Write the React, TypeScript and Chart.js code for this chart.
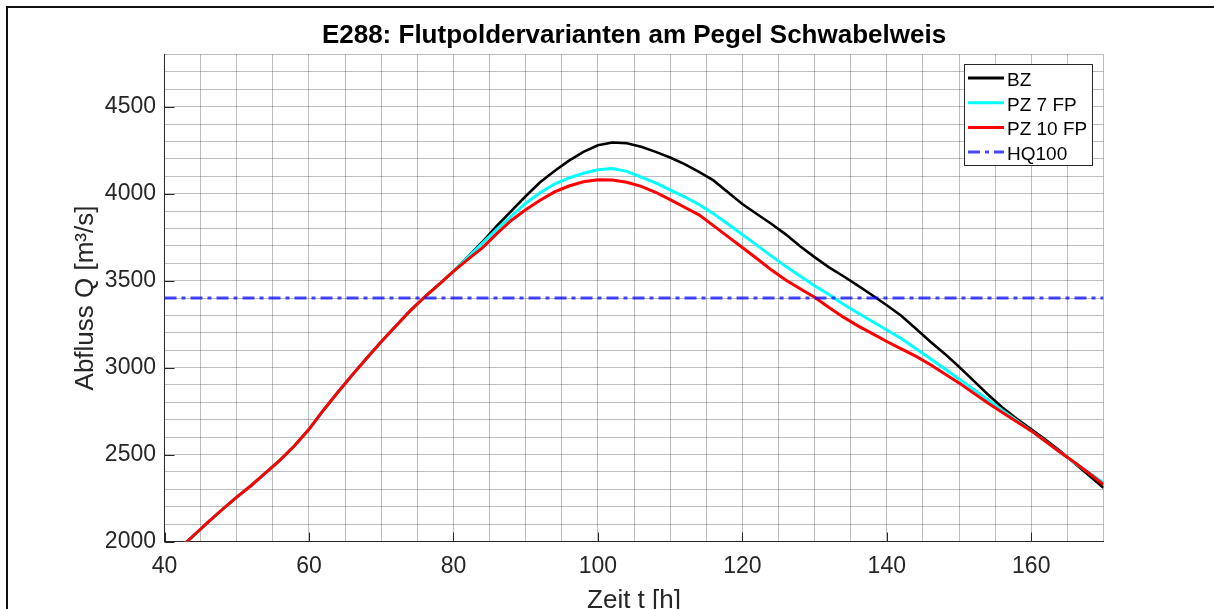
import React, { useEffect, useRef } from 'react';
import { Chart, registerables } from 'chart.js';

Chart.register(...registerables);

// ---- data ----
const TIME_H = [
  40, 42, 44, 46, 48, 50, 52, 54, 56, 58, 60, 62, 64, 66, 68, 70, 72, 74, 76, 78, 80,
  82, 84, 86, 88, 90, 92, 94, 96, 98, 100, 102, 104, 106, 108, 110, 112, 114, 116, 118, 120,
  122, 124, 126, 128, 130, 132, 134, 136, 138, 140, 142, 144, 146, 148, 150, 152, 154, 156, 158, 160,
  162, 164, 166, 168, 170,
];

const BZ = [
  1885, 1958, 2033, 2110, 2184, 2255, 2322, 2395, 2468, 2550, 2645, 2755, 2858, 2958, 3054, 3148, 3238, 3326, 3405, 3478, 3553,
  3636, 3722, 3815, 3900, 3985, 4065, 4130, 4190, 4240, 4278, 4294, 4290, 4270, 4240, 4208, 4170, 4125, 4076, 4008, 3940,
  3883, 3827, 3766, 3697, 3635, 3576, 3525, 3471, 3416, 3358, 3298, 3225, 3150, 3080, 3005, 2925, 2845, 2770, 2705, 2645,
  2585, 2520, 2450, 2380, 2309,
];

const PZ7 = [
  1885, 1958, 2033, 2110, 2184, 2255, 2322, 2395, 2468, 2550, 2645, 2755, 2858, 2958, 3054, 3148, 3238, 3326, 3405, 3478, 3553,
  3634, 3715, 3795, 3870, 3945, 4005, 4055, 4090, 4117, 4137, 4145, 4128, 4095, 4062, 4022, 3982, 3938, 3885, 3825, 3765,
  3704, 3642, 3582, 3526, 3470, 3420, 3364, 3314, 3265, 3216, 3167, 3110, 3052, 2993, 2934, 2875, 2815, 2753, 2694, 2636,
  2575, 2513, 2453, 2395, 2336,
];

const PZ10 = [
  1885, 1958, 2033, 2110, 2184, 2255, 2322, 2395, 2468, 2550, 2645, 2755, 2858, 2958, 3054, 3148, 3238, 3326, 3405, 3478, 3553,
  3622, 3688, 3770, 3846, 3907, 3962, 4010, 4044, 4068, 4080, 4078, 4065, 4042, 4008, 3966, 3922, 3878, 3816, 3753, 3690,
  3627, 3562, 3503, 3453, 3404, 3345, 3290, 3240, 3195, 3150, 3108, 3066, 3018, 2965, 2912, 2854, 2796, 2742, 2688, 2636,
  2575, 2513, 2455, 2392, 2328,
];

const HQ100_VALUE = 3400;
const HQ100_SPAN = [40, 170];

const SERIES_LABELS = ['BZ', 'PZ 7 FP', 'PZ 10 FP', 'HQ100'];
const SERIES_COLORS = ['#000000', '#00FFFF', '#FF0000', 'rgba(0,0,255,0.72)'];

const X_TICK_LABELS = [40, 60, 80, 100, 120, 140, 160];
const Y_TICK_LABELS = [2000, 2500, 3000, 3500, 4000, 4500];
const X_GRID = [40, 45, 50, 55, 60, 65, 70, 75, 80, 85, 90, 95, 100, 105, 110, 115, 120, 125, 130, 135, 140, 145, 150, 155, 160, 165, 170];
const Y_GRID = [2000, 2100, 2200, 2300, 2400, 2500, 2600, 2700, 2800, 2900, 3000, 3100, 3200, 3300, 3400, 3500, 3600, 3700, 3800, 3900, 4000, 4100, 4200, 4300, 4400, 4500, 4600, 4700, 4800];
const X_RANGE = [40, 170];
const Y_RANGE = [2000, 4800];

const TITLE = 'E288: Flutpoldervarianten am Pegel Schwabelweis';
const X_LABEL = 'Zeit t [h]';
const Y_LABEL = 'Abfluss Q [m³/s]';

// ---- styles ----
const FONT = "'Liberation Sans', Arial, Helvetica, sans-serif";
const AXIS_COLOR = '#262626';
const GRID_COLOR = 'rgba(38,38,38,0.3)';
const W = 1214;
const H = 609;

const decorPlugin = {
  id: 'decor',
  beforeDraw(chart: any) {
    const ctx = chart.ctx;
    ctx.save();
    ctx.fillStyle = '#ffffff';
    ctx.fillRect(0, 0, chart.width, chart.height);
    ctx.restore();
  },
  afterDraw(chart: any) {
    const { ctx, chartArea: ca, scales } = chart;
    ctx.save();
    // inward tick marks
    ctx.strokeStyle = AXIS_COLOR;
    ctx.lineWidth = 1;
    ctx.beginPath();
    X_TICK_LABELS.forEach((v) => {
      const px = Math.round(scales.x.getPixelForValue(v)) + 0.5;
      ctx.moveTo(px, ca.bottom);
      ctx.lineTo(px, ca.bottom - 9);
    });
    Y_TICK_LABELS.forEach((v) => {
      const py = Math.round(scales.y.getPixelForValue(v)) + 0.5;
      ctx.moveTo(ca.left, py);
      ctx.lineTo(ca.left + 10, py);
    });
    ctx.stroke();

    const cx = (ca.left + ca.right) / 2;
    // title
    ctx.fillStyle = '#000000';
    ctx.font = `bold 26px ${FONT}`;
    ctx.textAlign = 'center';
    ctx.textBaseline = 'alphabetic';
    ctx.fillText(TITLE, cx, 43);

    // axis labels
    ctx.fillStyle = AXIS_COLOR;
    ctx.font = `26px ${FONT}`;
    ctx.fillText(X_LABEL, cx, 608);
    ctx.save();
    ctx.translate(86, (ca.top + ca.bottom) / 2);
    ctx.rotate(-Math.PI / 2);
    ctx.textBaseline = 'middle';
    ctx.fillText(Y_LABEL, 0, 0);
    ctx.restore();

    // legend
    const lx = 964.5, ly = 64.5, lw = 128, lh = 101;
    ctx.fillStyle = '#ffffff';
    ctx.fillRect(lx, ly, lw, lh);
    ctx.strokeStyle = AXIS_COLOR;
    ctx.lineWidth = 1;
    ctx.strokeRect(lx, ly, lw, lh);
    ctx.font = `19px ${FONT}`;
    ctx.textAlign = 'left';
    ctx.textBaseline = 'alphabetic';
    SERIES_LABELS.forEach((label, i) => {
      const yLine = 78 + i * 24.7;
      const ds = chart.data.datasets[i];
      ctx.save();
      ctx.strokeStyle = ds.borderColor;
      ctx.lineWidth = 3;
      ctx.setLineDash(ds.borderDash || []);
      ctx.beginPath();
      ctx.moveTo(968, yLine);
      ctx.lineTo(1004, yLine);
      ctx.stroke();
      ctx.restore();
      ctx.fillStyle = '#000000';
      ctx.fillText(label, 1007, yLine + 8);
    });

    // figure frame
    ctx.strokeStyle = '#111111';
    ctx.lineWidth = 2;
    ctx.strokeRect(7, 7, W + 50, H + 50);
    ctx.restore();
  },
};

export default function App() {
  const canvasRef = useRef<HTMLCanvasElement | null>(null);

  useEffect(() => {
    if (!canvasRef.current) return;
    const toPts = (arr: number[]) => TIME_H.map((t, i) => ({ x: t, y: arr[i] }));
    const chart = new Chart(canvasRef.current, {
      type: 'line',
      data: {
        datasets: [
          { label: SERIES_LABELS[0], data: toPts(BZ), borderColor: SERIES_COLORS[0], borderWidth: 2.6, pointRadius: 0, order: 3, tension: 0 },
          { label: SERIES_LABELS[1], data: toPts(PZ7), borderColor: SERIES_COLORS[1], borderWidth: 3, pointRadius: 0, order: 2, tension: 0 },
          { label: SERIES_LABELS[2], data: toPts(PZ10), borderColor: SERIES_COLORS[2], borderWidth: 3, pointRadius: 0, order: 1, tension: 0 },
          {
            label: SERIES_LABELS[3],
            data: HQ100_SPAN.map((t) => ({ x: t, y: HQ100_VALUE })),
            borderColor: SERIES_COLORS[3],
            borderWidth: 3.2,
            borderDash: [12, 5, 4, 5],
            pointRadius: 0,
            order: 0,
          },
        ],
      },
      options: {
        responsive: false,
        animation: false,
        devicePixelRatio: 1,
        layout: { padding: { left: 0, top: 54.5, right: 110.5, bottom: 0 } },
        plugins: {
          legend: { display: false },
          title: { display: false },
          tooltip: { enabled: false },
        },
        scales: {
          x: {
            type: 'linear',
            min: X_RANGE[0],
            max: X_RANGE[1],
            afterBuildTicks: (scale: any) => {
              scale.ticks = X_GRID.map((v) => ({ value: v }));
            },
            afterFit: (scale: any) => {
              scale.height = 67.5;
            },
            grid: { color: GRID_COLOR, lineWidth: 1, drawTicks: false },
            border: { display: true, color: AXIS_COLOR, width: 1 },
            ticks: {
              autoSkip: false,
              maxRotation: 0,
              padding: 11,
              color: AXIS_COLOR,
              font: { family: FONT, size: 23 },
              callback: (v: any) => (X_TICK_LABELS.includes(Number(v)) ? String(v) : ''),
            },
          },
          y: {
            type: 'linear',
            min: Y_RANGE[0],
            max: Y_RANGE[1],
            afterBuildTicks: (scale: any) => {
              scale.ticks = Y_GRID.map((v) => ({ value: v }));
            },
            afterFit: (scale: any) => {
              scale.width = 164.5;
            },
            grid: { color: GRID_COLOR, lineWidth: 1, drawTicks: false },
            border: { display: true, color: AXIS_COLOR, width: 1 },
            ticks: {
              autoSkip: false,
              padding: 8.5,
              color: AXIS_COLOR,
              font: { family: FONT, size: 23 },
              callback: (v: any) => (Y_TICK_LABELS.includes(Number(v)) ? String(v) : ''),
            },
          },
        },
      },
      plugins: [decorPlugin],
    } as any);
    return () => chart.destroy();
  }, []);

  return (
    <div style={{ position: 'absolute', left: 0, top: 0, width: W, height: H, background: '#fff' }}>
      <canvas ref={canvasRef} width={W} height={H} style={{ display: 'block', width: W, height: H }} />
    </div>
  );
}
